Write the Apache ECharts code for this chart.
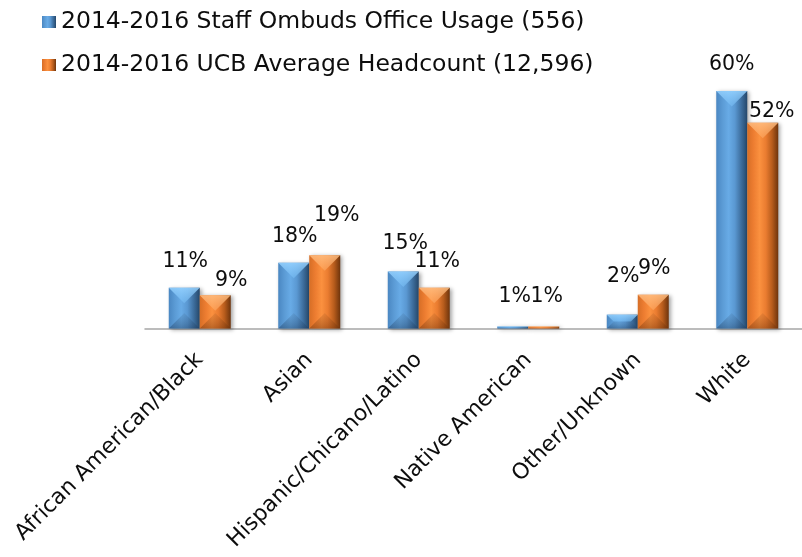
<!DOCTYPE html>
<html>
<head>
<meta charset="utf-8">
<script src="https://cdn.jsdelivr.net/npm/echarts@6/dist/echarts.min.js"></script>
<style>
  html, body { margin: 0; padding: 0; background: #fff; }
  #chart { width: 802px; height: 557px; }
</style>
</head>
<body>
<div id="chart"></div>
<script>
const categories = ['African American/Black', 'Asian', 'Hispanic/Chicano/Latino', 'Native American', 'Other/Unknown', 'White']
const usageValues = [10.3, 16.6, 14.4, 0.5, 3.5, 60]
const headcountValues = [8.4, 18.5, 10.3, 0.5, 8.5, 52]
const usageLabels = ['11%', '18%', '15%', '1%', '2%', '60%']
const headcountLabels = ['9%', '19%', '11%', '1%', '9%', '52%']

// label nudges, Excel placed some by hand
const usageShift = [[1, 0], [1, 0], [2, -1], [2, -3], [1, -11], [0, 0]]
const headcountShift = [[16, 12], [12, -13], [3, 0], [3, -3], [1, 0], [9, 16]]

const BAR_W = 31
const FONT = 'DejaVu Sans'

function hGrad (stops) {
  return new echarts.graphic.LinearGradient(0, 0, 1, 0, stops.map((c, k) => ({ offset: k / (stops.length - 1), color: c })))
}

const blueBody = hGrad(['#4a87c2', '#5b9bd5', '#68abe6', '#5a98d2', '#3e6f9f', '#25476a'])
const orangeBody = hGrad(['#d66e26', '#ed7d31', '#fb913f', '#ea7c30', '#b75c1c', '#6e340c'])

function barData (values, labels, shifts) {
  return values.map((v, i) => ({
    value: v,
    label: { formatter: labels[i], offset: shifts[i] }
  }))
}

function bevel (side, topCol, botCol) {
  return function (params, api) {
    const i = api.value(0)
    const v = api.value(1)
    const t = api.coord([i, v])
    const b = api.coord([i, 0])
    const x0 = side < 0 ? t[0] - BAR_W : t[0]
    const x1 = x0 + BAR_W
    const yT = t[1]
    const yB = b[1]
    const d = Math.min(BAR_W / 2, (yB - yT) / 2)
    return {
      type: 'group',
      children: [{
        type: 'polygon',
        shape: { points: [[x0, yT], [x1, yT], [x1 - d, yT + d], [x0 + d, yT + d]] },
        style: { fill: new echarts.graphic.LinearGradient(0, 0, 0, 1, [{ offset: 0, color: topCol[0] }, { offset: 1, color: topCol[1] }]) }
      }, {
        type: 'polygon',
        shape: { points: [[x0, yB], [x1, yB], [x1 - d, yB - d], [x0 + d, yB - d]] },
        style: { fill: new echarts.graphic.LinearGradient(0, 1, 0, 0, [{ offset: 0, color: botCol[0] }, { offset: 1, color: botCol[1] }]) }
      }]
    }
  }
}

const chart = echarts.init(document.getElementById('chart'), null, { renderer: 'canvas' })
chart.setOption({
  animation: false,
  textStyle: { fontFamily: FONT },
  legend: {
    data: ['2014-2016 Staff Ombuds Office Usage (556)', '2014-2016 UCB Average Headcount (12,596)'],
    orient: 'vertical',
    left: 42,
    top: 10,
    padding: 0,
    icon: 'rect',
    itemWidth: 14,
    itemHeight: 12,
    itemGap: 19,
    textStyle: { fontFamily: FONT, fontSize: 23.5, color: '#0d0d0d' }
  },
  grid: { left: 145, width: 660, top: 91, bottom: 228.5 },
  xAxis: {
    type: 'category',
    data: categories,
    axisLine: { lineStyle: { color: '#a6a6a6', width: 1.5 } },
    axisTick: { length: 7, lineStyle: { color: '#a6a6a6', width: 1.5 } },
    axisLabel: { rotate: 45, margin: 28, fontFamily: FONT, fontSize: 22, color: '#0d0d0d', interval: 0 }
  },
  yAxis: { type: 'value', min: 0, max: 60, show: false },
  series: [{
    name: '2014-2016 Staff Ombuds Office Usage (556)',
    type: 'bar',
    barWidth: BAR_W,
    barGap: '0%',
    data: barData(usageValues, usageLabels, usageShift),
    itemStyle: { color: blueBody, shadowColor: 'rgba(0,0,0,0.35)', shadowBlur: 4, shadowOffsetX: 2, shadowOffsetY: 1 },
    label: { show: true, position: 'top', distance: 16, fontFamily: FONT, fontSize: 20.5, color: '#0d0d0d' }
  }, {
    name: '2014-2016 UCB Average Headcount (12,596)',
    type: 'bar',
    barWidth: BAR_W,
    barGap: '0%',
    data: barData(headcountValues, headcountLabels, headcountShift),
    itemStyle: { color: orangeBody, shadowColor: 'rgba(0,0,0,0.35)', shadowBlur: 4, shadowOffsetX: 2, shadowOffsetY: 1 },
    label: { show: true, position: 'top', distance: 16, fontFamily: FONT, fontSize: 20.5, color: '#0d0d0d' }
  }, {
    name: 'usageBevel',
    type: 'custom',
    silent: true,
    z: 5,
    renderItem: bevel(-1, ['rgba(150,210,255,0.85)', 'rgba(120,190,245,0.55)'], ['rgba(30,60,95,0.45)', 'rgba(60,100,140,0.15)']),
    data: usageValues.map((v, i) => [i, v])
  }, {
    name: 'headcountBevel',
    type: 'custom',
    silent: true,
    z: 5,
    renderItem: bevel(1, ['rgba(255,190,130,0.85)', 'rgba(255,170,100,0.55)'], ['rgba(110,50,10,0.45)', 'rgba(150,80,30,0.15)']),
    data: headcountValues.map((v, i) => [i, v])
  }]
})
</script>
</body>
</html>
